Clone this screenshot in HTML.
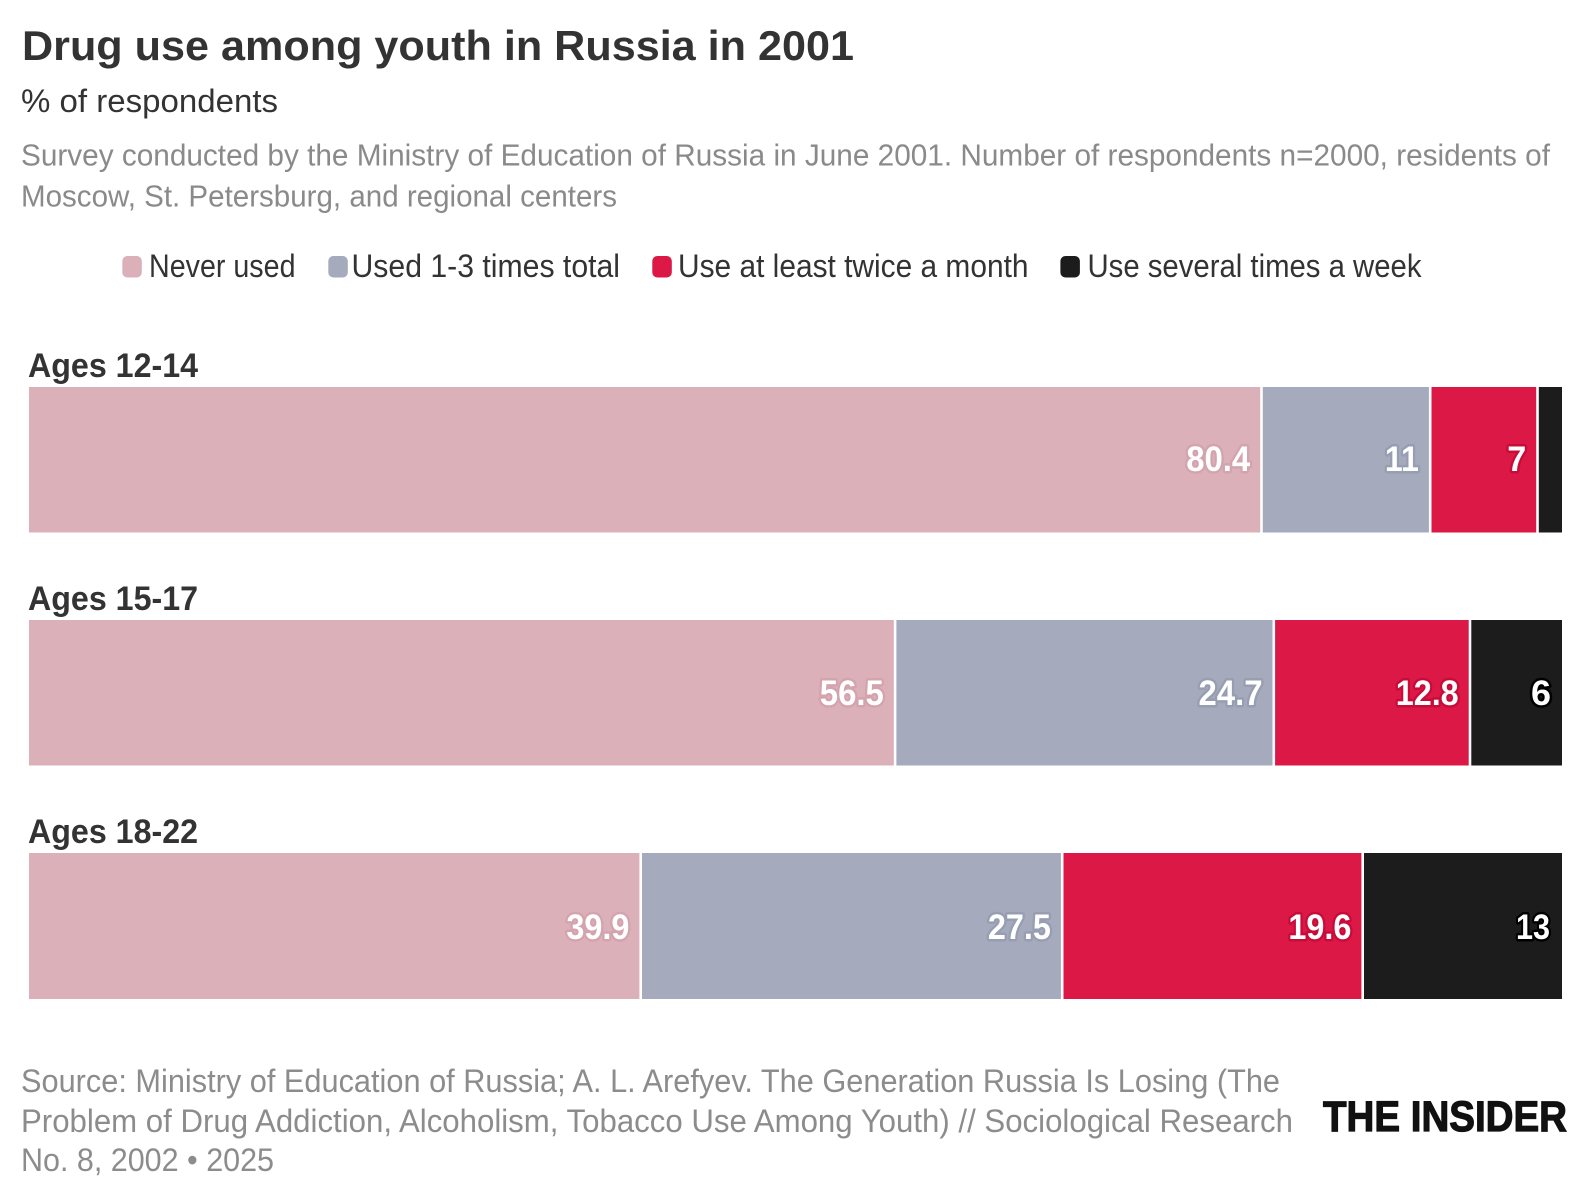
<!DOCTYPE html>
<html>
<head>
<meta charset="utf-8">
<style>
  html, body { margin: 0; padding: 0; background: #ffffff; }
  svg { display: block; }
  text { font-family: "Liberation Sans", Arial, sans-serif; }
  .val { font-weight: bold; font-size: 35px; fill: #ffffff; paint-order: stroke; stroke-width: 5px; stroke-linejoin: round; }
</style>
</head>
<body>
<svg width="1588" height="1200" viewBox="0 0 1588 1200" xmlns="http://www.w3.org/2000/svg">
  <rect x="0" y="0" width="1588" height="1200" fill="#ffffff"/>

  <!-- Title block -->
  <text x="22" y="60" font-size="42" font-weight="bold" fill="#333333" textLength="832" lengthAdjust="spacingAndGlyphs">Drug use among youth in Russia in 2001</text>
  <text x="21" y="112" font-size="32" fill="#333333" textLength="257" lengthAdjust="spacingAndGlyphs">% of respondents</text>
  <text x="21" y="165.5" font-size="31" fill="#8a8a8a" textLength="1529" lengthAdjust="spacingAndGlyphs">Survey conducted by the Ministry of Education of Russia in June 2001. Number of respondents n=2000, residents of</text>
  <text x="21" y="206.5" font-size="31" fill="#8a8a8a" textLength="596" lengthAdjust="spacingAndGlyphs">Moscow, St. Petersburg, and regional centers</text>

  <!-- Legend -->
  <rect x="122.3" y="256" width="19.5" height="21.5" rx="5" fill="#dcb0b9"/>
  <text x="149" y="277" font-size="32" fill="#333333" textLength="146.5" lengthAdjust="spacingAndGlyphs">Never used</text>
  <rect x="328.3" y="256" width="19.5" height="21.5" rx="5" fill="#a5abbd"/>
  <text x="351.5" y="277" font-size="32" fill="#333333" textLength="268.5" lengthAdjust="spacingAndGlyphs">Used 1-3 times total</text>
  <rect x="652.3" y="256" width="19.5" height="21.5" rx="5" fill="#dc1847"/>
  <text x="678" y="277" font-size="32" fill="#333333" textLength="350.5" lengthAdjust="spacingAndGlyphs">Use at least twice a month</text>
  <rect x="1060.4" y="256" width="19.5" height="21.5" rx="5" fill="#1c1c1c"/>
  <text x="1087.5" y="277" font-size="32" fill="#333333" textLength="334" lengthAdjust="spacingAndGlyphs">Use several times a week</text>

  <!-- Row labels -->
  <text x="28" y="377" font-size="34" font-weight="bold" fill="#333333" textLength="170" lengthAdjust="spacingAndGlyphs">Ages 12-14</text>
  <text x="28" y="610" font-size="34" font-weight="bold" fill="#333333" textLength="170" lengthAdjust="spacingAndGlyphs">Ages 15-17</text>
  <text x="28" y="843" font-size="34" font-weight="bold" fill="#333333" textLength="170" lengthAdjust="spacingAndGlyphs">Ages 18-22</text>

  <!-- Row 1 -->
  <rect x="29" y="387" width="1231.2" height="145.5" fill="#dcb0b9"/>
  <rect x="1262.8" y="387" width="166.1" height="145.5" fill="#a5abbd"/>
  <rect x="1431.5" y="387" width="104.7" height="145.5" fill="#dc1847"/>
  <rect x="1538.8" y="387" width="23.2" height="145.5" fill="#1c1c1c"/>
  <text class="val" x="1250.2" y="471" text-anchor="end" stroke="#d3a4ae" textLength="64" lengthAdjust="spacingAndGlyphs">80.4</text>
  <text class="val" x="1418.9" y="471" text-anchor="end" stroke="#979eb2" textLength="34" lengthAdjust="spacingAndGlyphs">11</text>
  <text class="val" x="1526.2" y="471" text-anchor="end" stroke="#c80c3a" textLength="19" lengthAdjust="spacingAndGlyphs">7</text>

  <!-- Row 2 -->
  <rect x="29" y="620" width="864.8" height="145.5" fill="#dcb0b9"/>
  <rect x="896.4" y="620" width="376.1" height="145.5" fill="#a5abbd"/>
  <rect x="1275.1" y="620" width="193.6" height="145.5" fill="#dc1847"/>
  <rect x="1471.3" y="620" width="90.7" height="145.5" fill="#1c1c1c"/>
  <text class="val" x="883.8" y="705" text-anchor="end" stroke="#d3a4ae" textLength="64" lengthAdjust="spacingAndGlyphs">56.5</text>
  <text class="val" x="1262.5" y="705" text-anchor="end" stroke="#979eb2" textLength="64" lengthAdjust="spacingAndGlyphs">24.7</text>
  <text class="val" x="1458.7" y="705" text-anchor="end" stroke="#c80c3a" textLength="63" lengthAdjust="spacingAndGlyphs">12.8</text>
  <text class="val" x="1551" y="705" text-anchor="end" stroke="#000000" textLength="20" lengthAdjust="spacingAndGlyphs">6</text>

  <!-- Row 3 -->
  <rect x="29" y="853" width="610.4" height="146" fill="#dcb0b9"/>
  <rect x="642" y="853" width="418.9" height="146" fill="#a5abbd"/>
  <rect x="1063.5" y="853" width="297.9" height="146" fill="#dc1847"/>
  <rect x="1364" y="853" width="198" height="146" fill="#1c1c1c"/>
  <text class="val" x="629.4" y="939" text-anchor="end" stroke="#d3a4ae" textLength="63" lengthAdjust="spacingAndGlyphs">39.9</text>
  <text class="val" x="1050.9" y="939" text-anchor="end" stroke="#979eb2" textLength="63" lengthAdjust="spacingAndGlyphs">27.5</text>
  <text class="val" x="1351.4" y="939" text-anchor="end" stroke="#c80c3a" textLength="63" lengthAdjust="spacingAndGlyphs">19.6</text>
  <text class="val" x="1550" y="939" text-anchor="end" stroke="#000000" textLength="34" lengthAdjust="spacingAndGlyphs">13</text>

  <!-- Footer -->
  <text x="21" y="1092" font-size="32" fill="#8c8c8c" textLength="1259" lengthAdjust="spacingAndGlyphs">Source: Ministry of Education of Russia; A. L. Arefyev. The Generation Russia Is Losing (The</text>
  <text x="21" y="1132" font-size="32" fill="#8c8c8c" textLength="1272" lengthAdjust="spacingAndGlyphs">Problem of Drug Addiction, Alcoholism, Tobacco Use Among Youth) // Sociological Research</text>
  <text x="21" y="1171" font-size="32" fill="#8c8c8c" textLength="253" lengthAdjust="spacingAndGlyphs">No. 8, 2002 • 2025</text>

  <!-- Logo -->
  <text x="1323" y="1131" font-size="43" font-weight="bold" fill="#111111" stroke="#111111" stroke-width="1.2" textLength="244" lengthAdjust="spacingAndGlyphs">THE INSIDER</text>
</svg>
</body>
</html>
